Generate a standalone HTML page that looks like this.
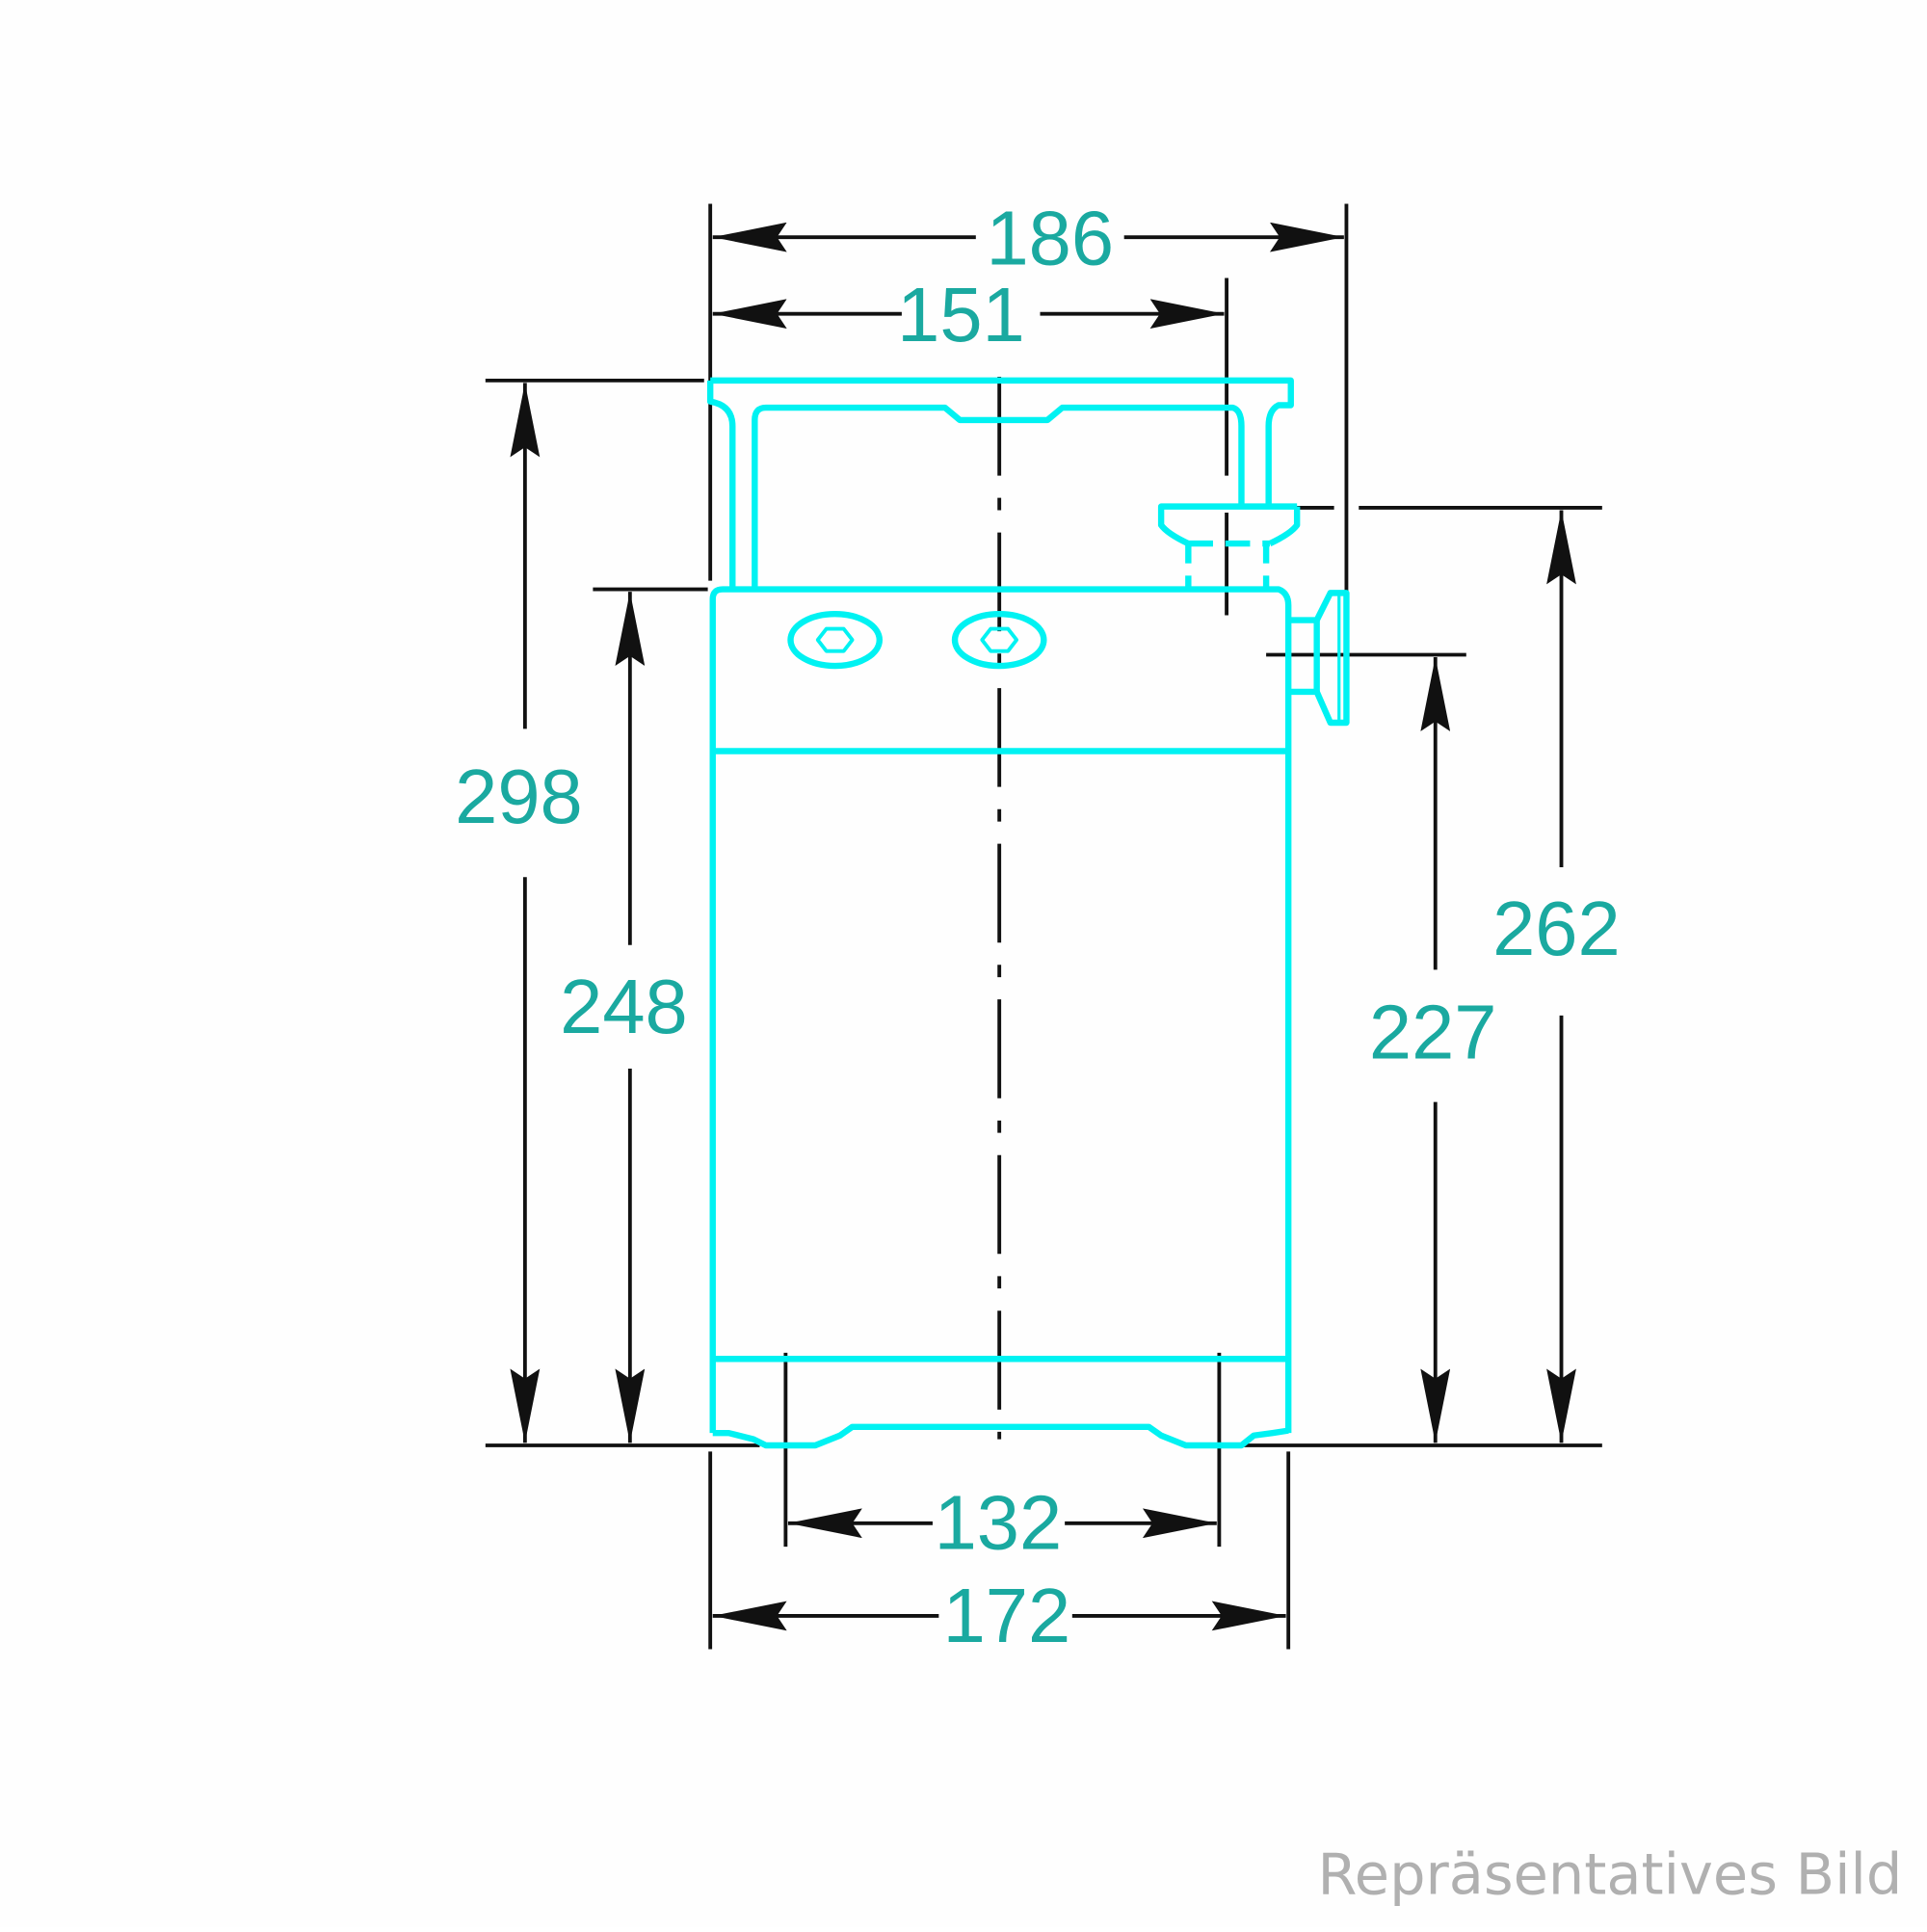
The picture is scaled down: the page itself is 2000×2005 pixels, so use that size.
<!DOCTYPE html>
<html><head><style>html,body{margin:0;padding:0;background:#fff}</style></head>
<body>
<svg width="2000" height="2000" viewBox="0 0 1560 1560" xmlns="http://www.w3.org/2000/svg">
<rect width="1560" height="1560" fill="#fefefe"/>
<defs>
<marker id="a" viewBox="0 0 60 24" refX="60" refY="12" markerWidth="60" markerHeight="24" markerUnits="userSpaceOnUse" orient="auto-start-reverse">
<path d="M60,12 L0,0 L8,12 L0,24 Z" fill="#111"/>
</marker>
</defs>
<g stroke="#111" stroke-width="3" fill="none">
<line x1="575" y1="165" x2="575" y2="470"/>
<line x1="1090" y1="165" x2="1090" y2="480"/>
<line x1="993" y1="225" x2="993" y2="385"/>
<line x1="993" y1="415" x2="993" y2="498"/>
<line x1="393" y1="308" x2="570" y2="308"/>
<line x1="480" y1="477" x2="573" y2="477"/>
<line x1="393" y1="1170" x2="615" y2="1170"/>
<line x1="1005" y1="1170" x2="1297" y2="1170"/>
<line x1="1050" y1="411" x2="1080" y2="411"/>
<line x1="1100" y1="411" x2="1297" y2="411"/>
<line x1="1025" y1="530" x2="1187" y2="530"/>
<line x1="636" y1="1095" x2="636" y2="1252"/>
<line x1="987" y1="1095" x2="987" y2="1252"/>
<line x1="575" y1="1175" x2="575" y2="1335"/>
<line x1="1043" y1="1175" x2="1043" y2="1335"/>
<line x1="577" y1="192" x2="790" y2="192" marker-start="url(#a)"/>
<line x1="910" y1="192" x2="1088" y2="192" marker-end="url(#a)"/>
<line x1="577" y1="254" x2="730" y2="254" marker-start="url(#a)"/>
<line x1="842" y1="254" x2="991" y2="254" marker-end="url(#a)"/>
<line x1="425" y1="310" x2="425" y2="590" marker-start="url(#a)"/>
<line x1="425" y1="710" x2="425" y2="1168" marker-end="url(#a)"/>
<line x1="510" y1="479" x2="510" y2="765" marker-start="url(#a)"/>
<line x1="510" y1="865" x2="510" y2="1168" marker-end="url(#a)"/>
<line x1="1264" y1="413" x2="1264" y2="702" marker-start="url(#a)"/>
<line x1="1264" y1="822" x2="1264" y2="1168" marker-end="url(#a)"/>
<line x1="1162" y1="532" x2="1162" y2="785" marker-start="url(#a)"/>
<line x1="1162" y1="892" x2="1162" y2="1168" marker-end="url(#a)"/>
<line x1="638" y1="1233" x2="755" y2="1233" marker-start="url(#a)"/>
<line x1="862" y1="1233" x2="985" y2="1233" marker-end="url(#a)"/>
<line x1="577" y1="1308" x2="760" y2="1308" marker-start="url(#a)"/>
<line x1="868" y1="1308" x2="1041" y2="1308" marker-end="url(#a)"/>
<line x1="809" y1="305" x2="809" y2="1165" stroke-dasharray="80,18,10,18"/>
</g>
<g stroke="#00f2f2" stroke-width="5" fill="none" stroke-linejoin="round">
<path d="M575,308 L1045,308 L1045,328 L1035,328 Q1027,332 1027,345 L1027,410"/>
<path d="M575,308 L575,325 Q593,328 593,345 L593,475"/>
<path d="M611,475 L611,340 Q611,330 620,330 L765,330 L777,340 L848,340 L860,330 L998,330 Q1005,332 1005,345 L1005,410"/>
<path d="M1050,410 L940,410 L940,425 Q945,432 962,440" />
<path d="M1050,410 L1050,425 Q1045,432 1028,440"/>
<path d="M962,440 L1028,440" stroke-dasharray="20,10"/>
<line x1="962" y1="440" x2="962" y2="475" stroke-dasharray="16,10"/>
<line x1="1025" y1="440" x2="1025" y2="475" stroke-dasharray="16,10"/>
<path d="M577,1160 L577,485 Q577,477 585,477 L1035,477 Q1043,480 1043,490 L1043,1160"/>
<line x1="577" y1="608" x2="1043" y2="608"/>
<line x1="577" y1="1100" x2="1043" y2="1100"/>
<path d="M577,1160 L590,1160 L610,1165 L620,1170 L660,1170 L680,1162 L690,1155 L930,1155 L940,1162 L960,1170 L1005,1170 L1015,1162 L1030,1160 L1043,1158"/>
<ellipse cx="676" cy="518" rx="36" ry="21"/>
<ellipse cx="809" cy="518" rx="36" ry="21"/>
<path d="M662,518 L669,509 L683,509 L690,518 L683,527 L669,527 Z" stroke-width="3"/>
<path d="M795,518 L802,509 L816,509 L823,518 L816,527 L802,527 Z" stroke-width="3"/>
<path d="M1043,502 L1066,502 L1077,480 L1090,480 L1090,585 L1077,585 L1066,560 L1043,560"/>
<line x1="1066" y1="502" x2="1066" y2="560"/>
<line x1="1084" y1="482" x2="1084" y2="583" stroke-width="2.5"/>
</g>
<g font-family="Liberation Sans, sans-serif" font-size="62" fill="#1aa9a0" text-anchor="middle">
<text x="850" y="214">186</text>
<text x="778" y="276">151</text>
<text x="420" y="666">298</text>
<text x="505" y="836">248</text>
<text x="1260" y="773">262</text>
<text x="1160" y="857">227</text>
<text x="808" y="1254">132</text>
<text x="815" y="1329">172</text>
</g>
<text x="1540" y="1533" text-anchor="end" font-family="DejaVu Sans, sans-serif" font-size="46" fill="#b0b0b0">Repräsentatives Bild</text>
</svg>
</body></html>
